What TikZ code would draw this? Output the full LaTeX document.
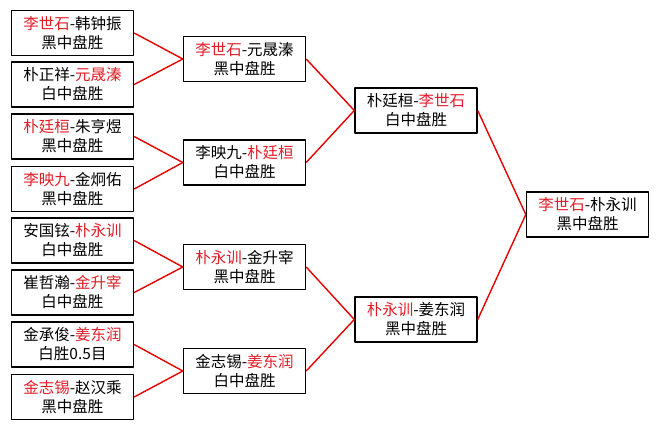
\documentclass[tikz,border=0pt]{standalone}
\usepackage{fontspec}
\setmainfont{Noto Sans CJK SC}
\definecolor{winred}{RGB}{225,30,40}
\definecolor{linered}{RGB}{230,0,0}
\newcommand{\win}[1]{\textcolor{winred}{#1}}
\begin{document}
\begin{tikzpicture}[x=1pt,y=-1pt,line join=round,
	game/.style={draw=black,line width=1.4pt,fill=white,minimum width=122pt,minimum height=45pt,
		inner sep=0pt,align=center,font=\fontsize{15.5}{19}\selectfont},
	link/.style={draw=linered,line width=1.4pt}]
	\useasboundingbox (0,0) rectangle (659,429);
	% first round
	\node[game] (A1) at (72.5,33) {\win{李世石}-韩钟振\\黑中盘胜};
	\node[game] (A2) at (72.5,84.5) {朴正祥-\win{元晟溱}\\白中盘胜};
	\node[game] (A3) at (72.5,136.5) {\win{朴廷桓}-朱亨煜\\黑中盘胜};
	\node[game] (A4) at (72.5,189) {\win{李映九}-金炯佑\\黑中盘胜};
	\node[game] (A5) at (72.5,240.5) {安国铉-\win{朴永训}\\白中盘胜};
	\node[game] (A6) at (72.5,292.5) {崔哲瀚-\win{金升宰}\\白中盘胜};
	\node[game] (A7) at (72.5,344.5) {金承俊-\win{姜东润}\\白胜0.5目};
	\node[game] (A8) at (72.5,397) {\win{金志锡}-赵汉乘\\黑中盘胜};
	% second round
	\node[game] (B1) at (244.5,59) {\win{李世石}-元晟溱\\黑中盘胜};
	\node[game] (B2) at (244.5,162.5) {李映九-\win{朴廷桓}\\白中盘胜};
	\node[game] (B3) at (244.5,267) {\win{朴永训}-金升宰\\黑中盘胜};
	\node[game] (B4) at (244.5,371) {金志锡-\win{姜东润}\\白中盘胜};
	% semi final
	\node[game] (C1) at (416,110.5) {朴廷桓-\win{李世石}\\白中盘胜};
	\node[game] (C2) at (416,319.5) {\win{朴永训}-姜东润\\黑中盘胜};
	% final
	\node[game] (D1) at (587.5,214.5) {\win{李世石}-朴永训\\黑中盘胜};
	\foreach \a/\b in {A1/B1,A2/B1,A3/B2,A4/B2,A5/B3,A6/B3,A7/B4,A8/B4,B1/C1,B2/C1,B3/C2,B4/C2,C1/D1,C2/D1}
	\draw[link] (\a.east)--(\b.west);
\end{tikzpicture}
\end{document}
